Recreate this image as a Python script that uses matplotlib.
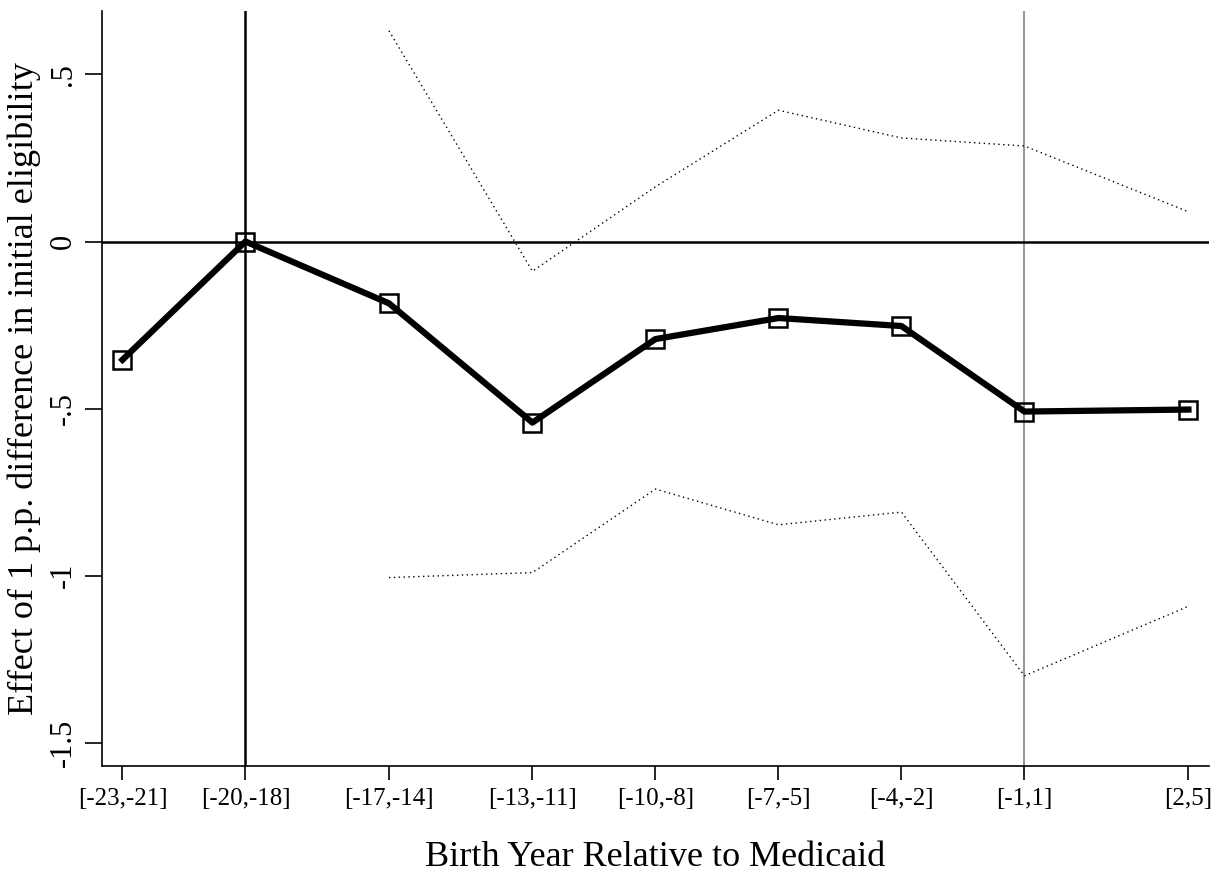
import matplotlib.pyplot as plt

plt.rcParams['font.family'] = ['Liberation Serif', 'DejaVu Serif']

# bin midpoints (years relative to Medicaid) and labels
x = [-22, -19, -15.5, -12, -9, -6, -3, 0, 4]
labels = ["[-23,-21]", "[-20,-18]", "[-17,-14]", "[-13,-11]", "[-10,-8]",
          "[-7,-5]", "[-4,-2]", "[-1,1]", "[2,5]"]
coef = [-0.354, 0.0, -0.185, -0.542, -0.292, -0.229, -0.253, -0.509, -0.503]

# confidence band (only from [-17,-14] on)
x_ci = [-15.5, -12, -9, -6, -3, 0, 4]
upper = [0.631, -0.089, 0.164, 0.393, 0.31, 0.286, 0.089]
lower = [-1.006, -0.991, -0.741, -0.848, -0.81, -1.30, -1.092]

fig = plt.figure(figsize=(12.24, 8.96), dpi=100)
ax = fig.add_axes([0.0833, 0.1451, 0.9044, 0.8426])

ax.axvline(-19, color='black', lw=1.8, zorder=1)
ax.axvline(0, color='#999999', lw=1.5, zorder=1)
ax.axhline(0, color='black', lw=1.8, zorder=1)

ax.plot(x_ci, upper, color='black', lw=1, linestyle=(0, (1, 2.5)))
ax.plot(x_ci, lower, color='black', lw=1, linestyle=(0, (1, 2.5)))
ax.plot(x, coef, color='black', lw=4.5, marker='s', markersize=13,
        markerfacecolor='none', markeredgecolor='black', markeredgewidth=1.8,
        zorder=3)

ax.set_xlim(-22.5, 4.5)
ax.set_ylim(-1.57, 0.69)
ax.set_xticks(x)
ax.set_xticklabels(labels, fontsize=18)
ax.set_yticks([-1.5, -1, -0.5, 0, 0.5])
ax.set_yticklabels(["-1.5", "-1", "-.5", "0", ".5"], fontsize=22,
                   rotation=90, va='center')
ax.tick_params(axis='x', length=10, width=1.2, pad=6)
ax.tick_params(axis='y', length=12, width=1.2, pad=5)

ax.spines['top'].set_visible(False)
ax.spines['right'].set_visible(False)
ax.spines['left'].set_linewidth(1.2)
ax.spines['bottom'].set_linewidth(1.2)

ax.set_xlabel("Birth Year Relative to Medicaid", fontsize=26, labelpad=22)
ax.set_ylabel("Effect of 1 p.p. difference in initial eligibility",
              fontsize=26, labelpad=6)

fig.savefig("out.png", dpi=100, facecolor='white')
